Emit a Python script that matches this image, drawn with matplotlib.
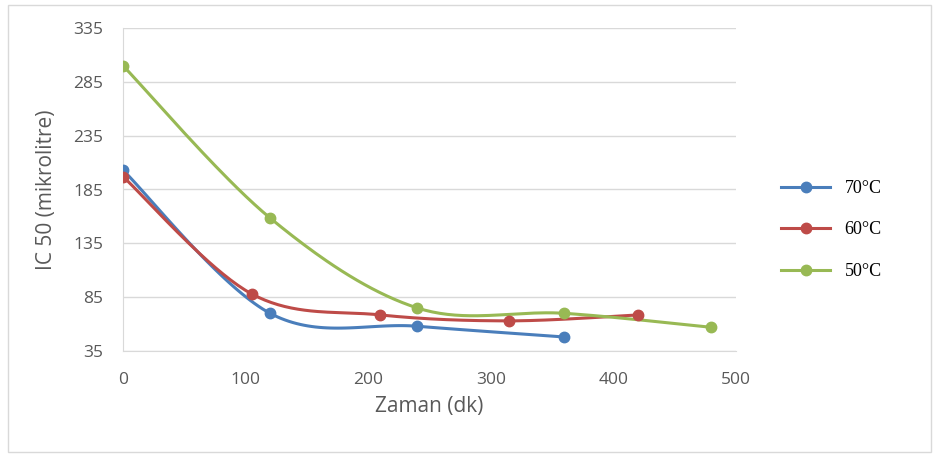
import numpy as np
import matplotlib.pyplot as plt
from matplotlib.patches import Rectangle

# data
x_70 = [0, 120, 240, 360]
y_70 = [203, 70, 58, 48]
x_60 = [0, 105, 210, 315, 420]
y_60 = [197, 88, 68.5, 63, 68.5]
x_50 = [0, 120, 240, 360, 480]
y_50 = [300, 158.5, 75, 70, 57]

labels = ['70°C', '60°C', '50°C']
colors = ['#4a7ebb', '#be4b48', '#98b954']


def smooth(xs, ys, n=40):
    # Excel-style smoothed line: cubic bezier through points with catmull-rom tangents
    pts = np.column_stack([xs, ys]).astype(float)
    out = [pts[0]]
    for i in range(len(pts) - 1):
        p0 = pts[i - 1] if i > 0 else pts[i]
        p1 = pts[i]
        p2 = pts[i + 1]
        p3 = pts[i + 2] if i + 2 < len(pts) else pts[i + 1]
        c1 = p1 + (p2 - p0) / 6
        c2 = p2 - (p3 - p1) / 6
        t = np.linspace(0, 1, n)[1:, None]
        seg = ((1 - t) ** 3 * p1 + 3 * (1 - t) ** 2 * t * c1
               + 3 * (1 - t) * t ** 2 * c2 + t ** 3 * p2)
        out.extend(seg)
    out = np.array(out)
    return out[:, 0], out[:, 1]


fig = plt.figure(figsize=(9.39, 4.57), dpi=100)
fig.patches.append(Rectangle((8 / 939, 5 / 457), 923 / 939, 447 / 457,
                             transform=fig.transFigure, fill=False,
                             edgecolor='#d9d9d9', linewidth=1))
ax = fig.add_axes([123 / 939, 1 - 351 / 457, 613 / 939, 323 / 457])

for xs, ys, lab, c in zip([x_70, x_60, x_50], [y_70, y_60, y_50], labels, colors):
    sx, sy = smooth(xs, ys)
    ax.plot(sx, sy, color=c, linewidth=2.2, zorder=3)
    ax.plot(xs, ys, 'o', color=c, markersize=7.5, zorder=4)
    ax.plot([], [], color=c, linewidth=2.2, marker='o', markersize=7.5, label=lab)

ax.set_xlim(0, 500)
ax.set_ylim(35, 335)
ax.set_xticks(range(0, 501, 100))
ax.set_yticks(range(35, 336, 50))
ax.grid(axis='y', color='#d9d9d9', linewidth=1)
ax.set_axisbelow(True)
for s in ['top', 'right']:
    ax.spines[s].set_visible(False)
for s in ['left', 'bottom']:
    ax.spines[s].set_color('#d9d9d9')
ax.tick_params(length=0, labelsize=12.5, labelcolor='#595959')
ax.tick_params(axis='y', pad=14)
ax.tick_params(axis='x', pad=15)
for t in ax.get_xticklabels() + ax.get_yticklabels():
    t.set_fontfamily('Open Sans')

ax.set_xlabel('Zaman (dk)', fontsize=15, color='#595959', family='Open Sans', labelpad=6)
ax.set_ylabel('IC 50 (mikrolitre)', fontsize=15, color='#595959', family='Open Sans', labelpad=12)

leg = fig.legend(loc='center left', bbox_to_anchor=(765 / 939, 1 - 230 / 457),
                 frameon=False, prop={'family': 'Liberation Serif', 'size': 13},
                 handlelength=2.7, labelspacing=1.35)

fig.savefig('out.png', dpi=100)
